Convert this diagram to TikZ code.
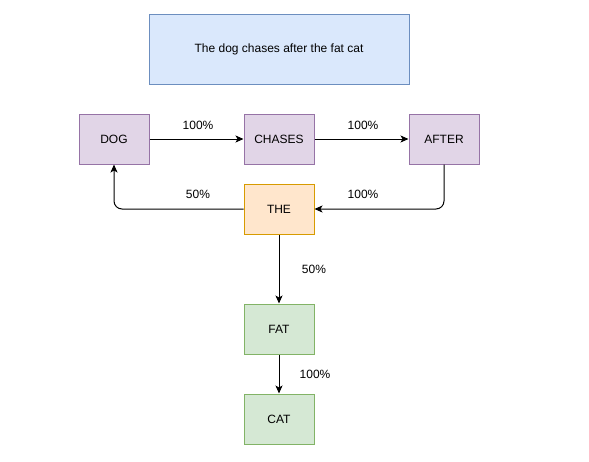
\documentclass[tikz,border=0pt]{standalone}
\usepackage{fontspec}
\setmainfont{Liberation Sans}
\usetikzlibrary{arrows.meta}
\definecolor{pfill}{HTML}{E1D5E7}\definecolor{pline}{HTML}{9673A6}
\definecolor{ofill}{HTML}{FFE6CC}\definecolor{oline}{HTML}{D79B00}
\definecolor{gfill}{HTML}{D5E8D4}\definecolor{gline}{HTML}{82B366}
\definecolor{bfill}{HTML}{DAE8FC}\definecolor{bline}{HTML}{6C8EBF}
\begin{document}
\begin{tikzpicture}[x=1pt,y=-1pt,
  every node/.style={font=\fontsize{12}{14}\selectfont},
  box/.style={draw, line width=1pt, minimum width=70pt, minimum height=50pt, inner sep=0pt},
  word/.style={box, fill=pfill, draw=pline},
  theb/.style={box, fill=ofill, draw=oline},
  gbox/.style={box, fill=gfill, draw=gline},
  conn/.style={line width=1pt, -{Stealth[length=8pt,width=7pt,inset=2pt]}, rounded corners=8pt},
  lbl/.style={inner sep=0pt}]
\useasboundingbox (0,0) rectangle (589,461);
\node[box, fill=bfill, draw=bline, minimum width=260pt, minimum height=70pt] (title) at (279,49) {The dog chases after the fat cat};
\node[word] (dog) at (114,139) {DOG};
\node[word] (chases) at (279,139) {CHASES};
\node[word] (after) at (444,139) {AFTER};
\node[theb] (the) at (279,209) {THE};
\node[gbox] (fat) at (279,329) {FAT};
\node[gbox] (cat) at (279,419) {CAT};
\draw[conn] (dog) -- (chases);
\draw[conn] (chases) -- (after);
\draw[conn] (after.south) |- (the.east);
\draw[conn] (the.west) -| (dog.south);
\draw[conn] (the) -- (fat);
\draw[conn] (fat) -- (cat);
\node[lbl] (l1) at (198,125) {100\%};
\node[lbl] (l2) at (363,125) {100\%};
\node[lbl] (l3) at (198,194) {50\%};
\node[lbl] (l4) at (363,194) {100\%};
\node[lbl] (l5) at (314,269) {50\%};
\node[lbl] (l6) at (315,374) {100\%};
\end{tikzpicture}
\end{document}
